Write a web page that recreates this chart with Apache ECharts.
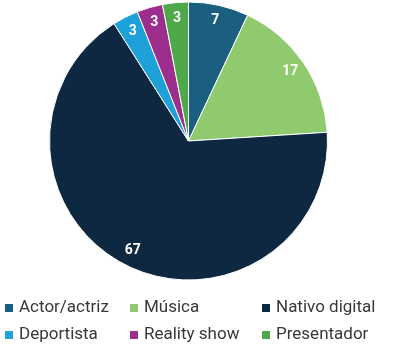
<!DOCTYPE html>
<html>
<head>
<meta charset="utf-8">
<script src="https://cdn.jsdelivr.net/npm/echarts@6/dist/echarts.min.js"></script>
<style>html,body{margin:0;padding:0;background:#fff}#c{width:394px;height:349px}</style>
</head>
<body>
<div id="c"></div>
<script>
var categories = ['Actor/actriz', 'Música', 'Nativo digital', 'Deportista', 'Reality show', 'Presentador'];
var values = [7, 17, 67, 3, 3, 3];
var colors = ['#1b5f80', '#8fca6f', '#0e2841', '#1ea1d9', '#9c2e8d', '#4ea84a'];

var chart = echarts.init(document.getElementById('c'), null, {renderer: 'canvas'});
var data = categories.map(function (n, i) {
  return {name: n, value: values[i], itemStyle: {color: colors[i]}};
});
var labelData = categories.map(function (n, i) {
  return {name: n, value: values[i]};
});
var colLeft = [3, 128, 260];
var rowTop = [299, 326];
var legends = categories.map(function (n, i) {
  return {
    left: colLeft[i % 3], top: rowTop[Math.floor(i / 3)], padding: 0,
    itemGap: 5, itemWidth: 10, itemHeight: 10, icon: 'rect',
    selectedMode: false,
    textStyle: {fontFamily: 'Roboto', fontSize: 17, color: '#383838', lineHeight: 18},
    data: [n]
  };
});
chart.setOption({
  animation: false,
  legend: legends,
  series: [
    {
      type: 'pie', center: [188.5, 141], radius: [0, 139],
      startAngle: 90, clockwise: true, data: data,
      itemStyle: {borderColor: '#fff', borderWidth: 1},
      label: {show: false}, labelLine: {show: false}, silent: true
    },
    {
      type: 'pie', center: [188.5, 141], radius: [101, 139],
      startAngle: 90, clockwise: true, data: labelData,
      itemStyle: {color: 'rgba(0,0,0,0)', borderWidth: 0}, legendHoverLink: false,
      label: {show: true, position: 'inside', color: '#fff', fontFamily: 'Roboto',
        fontWeight: 'bold', fontSize: 14, formatter: '{c}'},
      labelLine: {show: false}, silent: true
    }
  ]
});
</script>
</body>
</html>
